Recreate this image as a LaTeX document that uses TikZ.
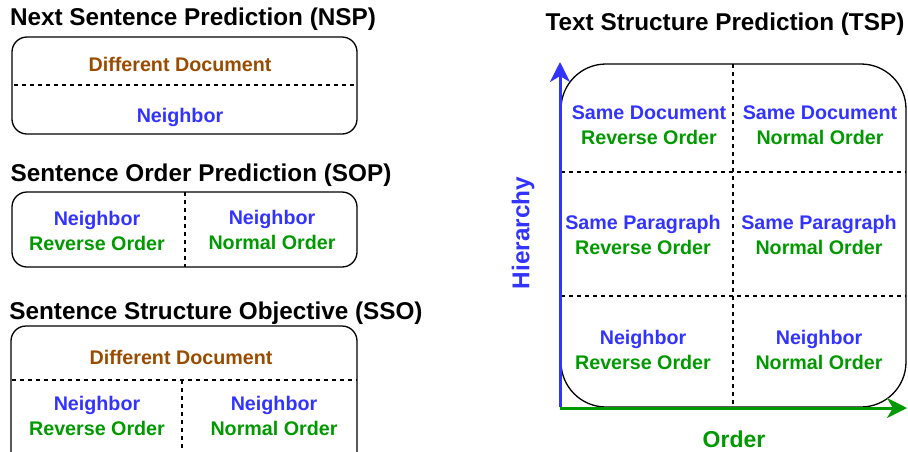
\documentclass[tikz,border=0pt]{standalone}
\usepackage{fontspec}
\setmainfont{Liberation Sans}
\usetikzlibrary{arrows.meta}
\definecolor{myblue}{HTML}{3333FF}
\definecolor{mygreen}{HTML}{009900}
\definecolor{mybrown}{HTML}{994C00}
\tikzset{
  ttl/.style={font=\fontsize{24.3}{28}\selectfont\bfseries},
  lbl/.style={font=\fontsize{19.7}{24.5}\selectfont\bfseries, align=center},
  box/.style={line width=1.3pt, rounded corners=15pt},
  sep/.style={line width=1.2pt, dash pattern=on 4pt off 4pt},
  axis/.style={line width=3pt, -{Stealth[length=20pt, width=20pt, inset=6pt]}},
}
\newcommand{\twolines}[2]{\textcolor{myblue}{#1}\\\textcolor{mygreen}{#2}}
\begin{document}
\begin{tikzpicture}[x=1pt, y=-1pt]
  \useasboundingbox (0,0) rectangle (908,451);
  \clip (0,0) rectangle (908,451);
  % NSP
  \node[ttl] (nsp) at (193,19) {Next Sentence Prediction (NSP)};
  \draw[box] (12,37) rectangle (357,134);
  \draw[sep] (14,85) -- (357,85);
  \node[lbl, mybrown] (nspdiff) at (180,64) {Different Document};
  \node[lbl, myblue] (nspnb) at (180,117) {Neighbor};
  % SOP
  \node[ttl] (sop) at (201,175) {Sentence Order Prediction (SOP)};
  \draw[box] (12,192) rectangle (357,267);
  \draw[sep] (185,192) -- (185,267);
  \node[lbl] (sopl) at (97,231) {\twolines{Neighbor}{Reverse Order}};
  \node[lbl] (sopr) at (272,230) {\twolines{Neighbor}{Normal Order}};
  % SSO
  \node[ttl] (sso) at (216,313) {Sentence Structure Objective (SSO)};
  \draw[box] (11,326) rectangle (357,470);
  \draw[sep] (12,380) -- (357,380);
  \draw[sep] (182,380) -- (182,470);
  \node[lbl, mybrown] (ssodiff) at (181,357) {Different Document};
  \node[lbl] (ssol) at (97,416) {\twolines{Neighbor}{Reverse Order}};
  \node[lbl] (ssor) at (274,416) {\twolines{Neighbor}{Normal Order}};
  % TSP
  \node[ttl] (tsp) at (725,24) {Text Structure Prediction (TSP)};
  \draw[box, rounded corners=45pt] (561,64) rectangle (906,407);
  \draw[sep] (733,64) -- (733,407);
  \draw[sep] (561,172) -- (906,172);
  \draw[sep] (561,296) -- (906,296);
  \node[lbl] (tl) at (649,125) {\twolines{Same Document}{Reverse Order}};
  \node[lbl] (tr) at (820,125) {\twolines{Same Document}{Normal Order}};
  \node[lbl] (ml) at (643,235) {\twolines{Same Paragraph}{Reverse Order}};
  \node[lbl] (mr) at (819,235) {\twolines{Same Paragraph}{Normal Order}};
  \node[lbl] (bl) at (643,350) {\twolines{Neighbor}{Reverse Order}};
  \node[lbl] (br) at (819,350) {\twolines{Neighbor}{Normal Order}};
  \coordinate (origin) at (560,408);
  \coordinate (ytip) at (560,62);
  \coordinate (xtip) at (907,408);
  \draw[axis, myblue] ([yshift=1.5pt]origin) -- (ytip);
  \draw[axis, mygreen] (origin) -- (xtip);
  \node[ttl, myblue, rotate=90] (hier) at (523,233) {Hierarchy};
  \node[ttl, mygreen, font=\fontsize{23}{26}\selectfont\bfseries, anchor=base, inner sep=1pt] (ord) at (734,447) {Order};
\end{tikzpicture}
\end{document}
